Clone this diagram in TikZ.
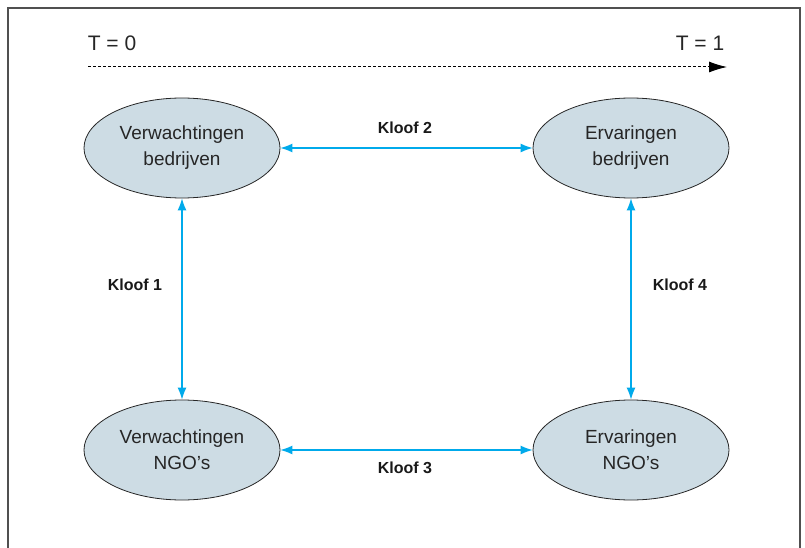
\documentclass[tikz,border=0pt]{standalone}
\usepackage{fontspec}
\setmainfont{Liberation Sans}
\usepackage{xcolor}
\usepackage{tikz}
\usetikzlibrary{positioning, arrows.meta, shapes.geometric}
\definecolor{framegray}{RGB}{80,80,80}
\definecolor{ovalfill}{RGB}{205,220,228}
\definecolor{gapblue}{RGB}{0,170,235}
\tikzset{
  oval/.style={
    ellipse, draw=black!85, line width=0.8pt, minimum width=196pt, minimum height=100pt,
    inner sep=0pt, fill=ovalfill, align=center, font=\fontsize{19}{26}\selectfont,
    text=black!85
  },
  gap/.style={draw=gapblue, line width=1.2pt, {Latex[length=12pt,width=9pt]}-{Latex[length=12pt,width=9pt]}},
  gaplabel/.style={font=\fontsize{16}{18}\selectfont\bfseries, text=black!90},
  timelabel/.style={font=\fontsize{21}{24}\selectfont, text=black!85},
}
\begin{document}
\begin{tikzpicture}[x=1pt,y=-1pt]
  \useasboundingbox (0,0) rectangle (805,548);
  % frame, open at the bottom
  \draw[framegray, line width=1.3pt] (8,548) -- (8,8) -- (800,8) -- (800,548);

  % time axis
  \node[timelabel] (t0) at (112,43) {T = 0};
  \node[timelabel] (t1) at (700,43) {T = 1};
  \coordinate (tstart) at (88,67);
  \coordinate (tend) at (727,67);
  \draw[dashed, line width=1pt, dash pattern=on 3pt off 2pt, -{Latex[length=18pt,width=11pt]}] (tstart) -- (tend);

  % the four ovals
  \node[oval] (vb) at (182,148) {Verwachtingen\\bedrijven};
  \node[oval] (eb) at (631,148) {Ervaringen\\bedrijven};
  \node[oval] (vn) at (182,450) {Verwachtingen\\NGO's};
  \node[oval] (en) at (631,450) {Ervaringen\\NGO's};

  % gaps
  \draw[gap] (vb) -- (eb);
  \draw[gap] (vn) -- (en);
  \draw[gap] (vb) -- (vn);
  \draw[gap] (eb) -- (en);

  \node[gaplabel] (k2) at (405,128) {Kloof 2};
  \node[gaplabel] (k3) at (405,468) {Kloof 3};
  \node[gaplabel] (k1) at (135,285) {Kloof 1};
  \node[gaplabel] (k4) at (680,285) {Kloof 4};
\end{tikzpicture}
\end{document}
